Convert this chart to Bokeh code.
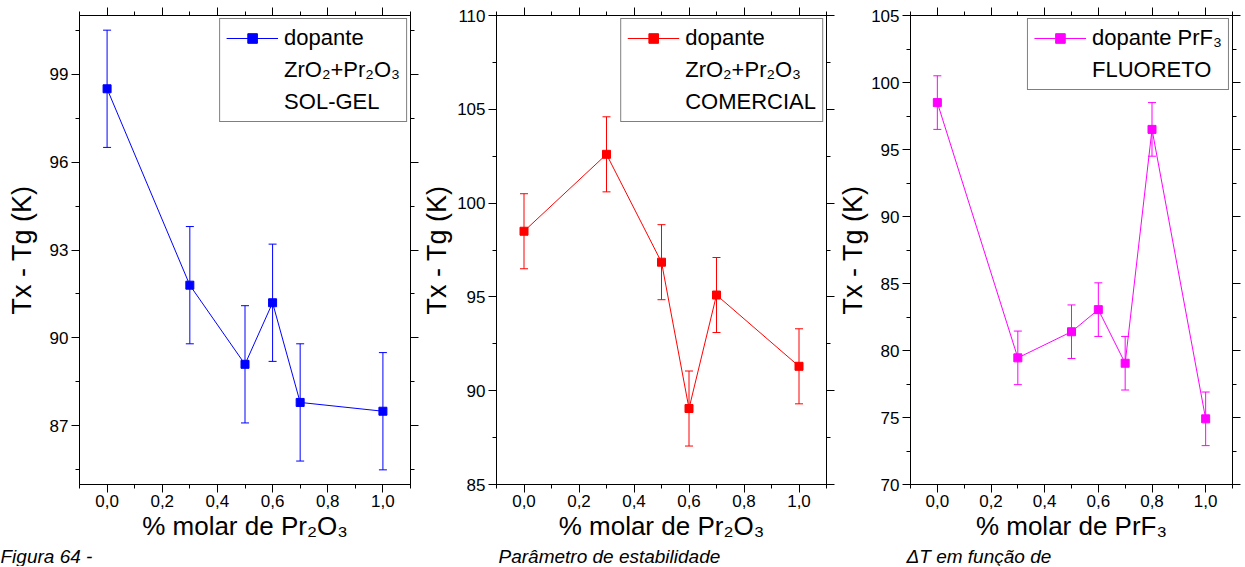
from bokeh.plotting import figure
from bokeh.models import (ColumnDataSource, Whisker, TeeHead, LinearAxis, FixedTicker,
                          CustomJSTickFormatter, Range1d, Legend, LegendItem, Title)
from bokeh.layouts import row
from bokeh.embed import file_html
from bokeh.resources import INLINE

FONT = "Liberation Sans"
H = 566

# ---------------- data ----------------
x_solgel = [0.0, 0.3, 0.5, 0.6, 0.7, 1.0]
y_solgel = [98.5, 91.8, 89.1, 91.2, 87.8, 87.5]
e_solgel = [2.0, 2.0, 2.0, 2.0, 2.0, 2.0]

x_comercial = [0.0, 0.3, 0.5, 0.6, 0.7, 1.0]
y_comercial = [98.5, 102.6, 96.85, 89.05, 95.1, 91.3]
e_comercial = [2.0, 2.0, 2.0, 2.0, 2.0, 2.0]

x_fluoreto = [0.0, 0.3, 0.5, 0.6, 0.7, 0.8, 1.0]
y_fluoreto = [98.5, 79.45, 81.4, 83.05, 79.05, 96.5, 74.9]
e_fluoreto = [2.0, 2.0, 2.0, 2.0, 2.0, 2.0, 2.0]

x_major = [0.0, 0.2, 0.4, 0.6, 0.8, 1.0]
x_minor = [-0.1, 0.1, 0.3, 0.5, 0.7, 0.9, 1.1]

y1_major = [87, 90, 93, 96, 99]
y1_minor = [85.5, 88.5, 91.5, 94.5, 97.5, 100.5]
y2_major = [85, 90, 95, 100, 105, 110]
y2_minor = [87.5, 92.5, 97.5, 102.5, 107.5]
y3_major = [70, 75, 80, 85, 90, 95, 100, 105]
y3_minor = [72.5, 77.5, 82.5, 87.5, 92.5, 97.5, 102.5]

legend1 = ["dopante", "ZrO\u2082+Pr\u2082O\u2083", "SOL-GEL"]
legend2 = ["dopante", "ZrO\u2082+Pr\u2082O\u2083", "COMERCIAL"]
legend3 = ["dopante PrF\u2083", "FLUORETO"]

xlabel1 = "% molar de Pr\u2082O\u2083"
xlabel3 = "% molar de PrF\u2083"
ylabel = "Tx - Tg (K)"

# caption of the source page (runs across the three panels)
caption1 = "Figura 64 -"
caption2 = "Parâmetro de estabilidade"
caption3 = "\u0394T em função de"

comma_fmt = CustomJSTickFormatter(code="return tick.toFixed(1).replace('.', ',')")


def style_axis(ax, ticker, fmt=None, blank=False):
    ax.ticker = ticker
    if fmt is not None:
        ax.formatter = fmt
    ax.axis_line_color = "black"
    ax.major_tick_line_color = "black"
    ax.minor_tick_line_color = "black"
    ax.major_tick_out = 8
    ax.major_tick_in = 0
    ax.minor_tick_out = 4
    ax.minor_tick_in = 0
    ax.major_label_text_font = FONT
    ax.major_label_text_color = "black"
    if blank:
        ax.major_label_text_font_size = "1px"
        ax.major_label_standoff = 0
        ax.axis_label_standoff = 0
    else:
        ax.major_label_text_font_size = "17px"
        ax.major_label_standoff = 2
    ax.axis_label_text_font = FONT
    ax.axis_label_text_font_size = "27px"
    ax.axis_label_text_font_style = "normal"
    ax.axis_label_text_color = "black"


def panel(xs, ys, es, color, ylo, yhi, ymaj, ymin, legend_lines, xlabel,
          width, bl, br, ylab_standoff, caption, cap_offset):
    p = figure(width=width, height=H, x_range=Range1d(-0.1, 1.1),
               y_range=Range1d(ylo, yhi), output_backend="svg",
               toolbar_location=None, min_border_left=bl, min_border_right=br,
               min_border_top=15, min_border_bottom=10)
    p.xgrid.visible = False
    p.ygrid.visible = False
    p.outline_line_color = "black"
    p.outline_line_width = 1
    p.background_fill_color = "white"
    p.border_fill_color = "white"

    xt = FixedTicker(ticks=x_major, minor_ticks=x_minor)
    yt = FixedTicker(ticks=ymaj, minor_ticks=ymin)
    style_axis(p.xaxis[0], xt, comma_fmt)
    style_axis(p.yaxis[0], yt)
    p.xaxis[0].axis_label = xlabel
    p.xaxis[0].axis_label_standoff = 1
    p.xaxis[0].axis_label_text_font_size = "26px"
    p.yaxis[0].axis_label = ylabel
    p.yaxis[0].axis_label_standoff = ylab_standoff
    p.yaxis[0].major_label_standoff = 3

    blank = "return ''"
    top = LinearAxis(formatter=CustomJSTickFormatter(code=blank))
    style_axis(top, FixedTicker(ticks=x_major, minor_ticks=x_minor), blank=True)
    p.add_layout(top, "above")
    right = LinearAxis(formatter=CustomJSTickFormatter(code=blank))
    style_axis(right, FixedTicker(ticks=ymaj, minor_ticks=ymin), blank=True)
    p.add_layout(right, "right")

    src = ColumnDataSource(dict(
        x=xs, y=ys,
        upper=[v + e for v, e in zip(ys, es)],
        lower=[v - e for v, e in zip(ys, es)],
    ))
    wh = Whisker(source=src, base="x", upper="upper", lower="lower",
                 dimension="height", line_color=color, line_width=1,
                 upper_head=TeeHead(size=8, line_color=color, line_width=1),
                 lower_head=TeeHead(size=8, line_color=color, line_width=1))
    p.add_layout(wh)
    ln = p.line("x", "y", source=src, line_color=color, line_width=1)
    sc = p.scatter("x", "y", source=src, marker="square", size=8,
                   fill_color=color, line_color=color)
    ghost = p.scatter("x", "y", source=src, size=0, fill_alpha=0, line_alpha=0)

    items = [LegendItem(label=legend_lines[0], renderers=[ln, sc])]
    for t in legend_lines[1:]:
        items.append(LegendItem(label=t, renderers=[ghost]))
    leg = Legend(items=items, location="top_right", margin=3, padding=6, spacing=6,
                 glyph_width=52, glyph_height=24, label_height=24, label_standoff=6,
                 label_text_font=FONT, label_text_font_size="22px",
                 label_text_color="black", label_text_baseline="middle",
                 border_line_color="black", border_line_width=1,
                 background_fill_color="white", background_fill_alpha=1)
    p.add_layout(leg)

    cap = Title(text=caption, align="left", offset=cap_offset, standoff=0,
                text_font=FONT, text_font_size="19px", text_font_style="italic",
                text_color="black")
    p.add_layout(cap, "below")
    return p


p1 = panel(x_solgel, y_solgel, e_solgel, "#0000FF", 85, 101, y1_major, y1_minor,
           legend1, xlabel1, 419, 79, 9, 10, caption1, -79)
p2 = panel(x_comercial, y_comercial, e_comercial, "#FF0000", 85, 110, y2_major, y2_minor,
           legend2, xlabel1, 416, 75, 9, 2, caption2, 2)
p3 = panel(x_fluoreto, y_fluoreto, e_fluoreto, "#FF00FF", 70, 105, y3_major, y3_minor,
           legend3, xlabel3, 407, 73, 10, 0, caption3, -4)

layout = row(p1, p2, p3, spacing=0)
open("out.html", "w").write(file_html(layout, INLINE))
